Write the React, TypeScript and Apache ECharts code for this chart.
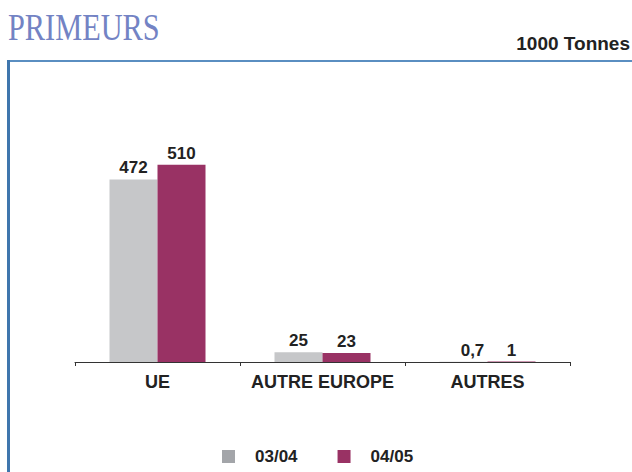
import React, { useEffect, useRef } from "react";
import * as echarts from "echarts";

const categories = ["UE", "AUTRE EUROPE", "AUTRES"];
const series0304 = [472, 25, 0.7];
const series0405 = [510, 23, 1];
const seriesNames = ["03/04", "04/05"];
const labels0304 = ["472", "25", "0,7"];
const labels0405 = ["510", "23", "1"];

export default function App() {
  const ref = useRef<HTMLDivElement>(null);
  useEffect(() => {
    if (!ref.current) return;
    const chart = echarts.init(ref.current, undefined, { renderer: "svg" });
    const font = "Liberation Sans, Arial, sans-serif";
    const labelStyle = {
      show: true,
      position: "top" as const,
      distance: 3,
      fontFamily: font,
      fontWeight: "bold" as const,
      fontSize: 17,
      color: "#222",
    };
    chart.setOption({
      animation: false,
      backgroundColor: "#ffffff",
      grid: { left: 75, right: 62, top: 130, bottom: 110 },
      xAxis: {
        type: "category",
        data: categories,
        axisLine: { show: true, lineStyle: { color: "#333", width: 1 } },
        axisTick: { show: true, length: 4, lineStyle: { color: "#333" } },
        axisLabel: {
          interval: 0,
          margin: 11,
          fontFamily: font,
          fontWeight: "bold",
          fontSize: 18,
          color: "#222",
        },
      },
      yAxis: { type: "value", min: 0, max: 600, show: false },
      legend: {
        left: 222,
        top: 448,
        padding: 0,
        itemWidth: 13,
        itemHeight: 13,
        itemGap: 40,
        icon: "rect",
        data: [
          { name: seriesNames[0], itemStyle: { color: "#a3a5a9" } },
          { name: seriesNames[1], itemStyle: { color: "#993264" } },
        ],
        textStyle: {
          fontFamily: font,
          fontWeight: "bold",
          fontSize: 17,
          color: "#222",
          padding: [0, 0, 0, 15],
        },
      },
      series: [
        {
          name: seriesNames[0],
          type: "bar",
          data: series0304.map((v, i) =>
            i === 2 ? { value: v, label: { offset: [9, 0] } } : v
          ),
          barWidth: 48,
          barGap: "0%",
          itemStyle: { color: "#c6c7c9" },
          label: { ...labelStyle, formatter: (p: any) => labels0304[p.dataIndex] },
        },
        {
          name: seriesNames[1],
          type: "bar",
          data: series0405,
          barWidth: 48,
          barGap: "0%",
          itemStyle: { color: "#993264" },
          label: { ...labelStyle, formatter: (p: any) => labels0405[p.dataIndex] },
        },
      ],
      graphic: [
        {
          type: "text",
          x: 8,
          y: 9,
          scaleX: 0.82,
          style: {
            text: "PRIMEURS",
            fontFamily: "Liberation Serif, serif",
            fontSize: 37,
            fill: "#7383c4",
          },
        },
        {
          type: "text",
          right: 2,
          top: 34,
          style: {
            text: "1000 Tonnes",
            fontFamily: font,
            fontWeight: "bold",
            fontSize: 19,
            fill: "#222",
          },
        },
        {
          type: "line",
          shape: { x1: 7, y1: 61, x2: 632, y2: 61 },
          style: { stroke: "#5a8ec1", lineWidth: 2 },
        },
        {
          type: "line",
          shape: { x1: 8.5, y1: 60, x2: 8.5, y2: 472 },
          style: { stroke: "#3f76ad", lineWidth: 3 },
        },
      ],
    });
    return () => chart.dispose();
  }, []);
  return (
    <div
      ref={ref}
      style={{ position: "fixed", left: 0, top: 0, width: 632, height: 472 }}
    />
  );
}
